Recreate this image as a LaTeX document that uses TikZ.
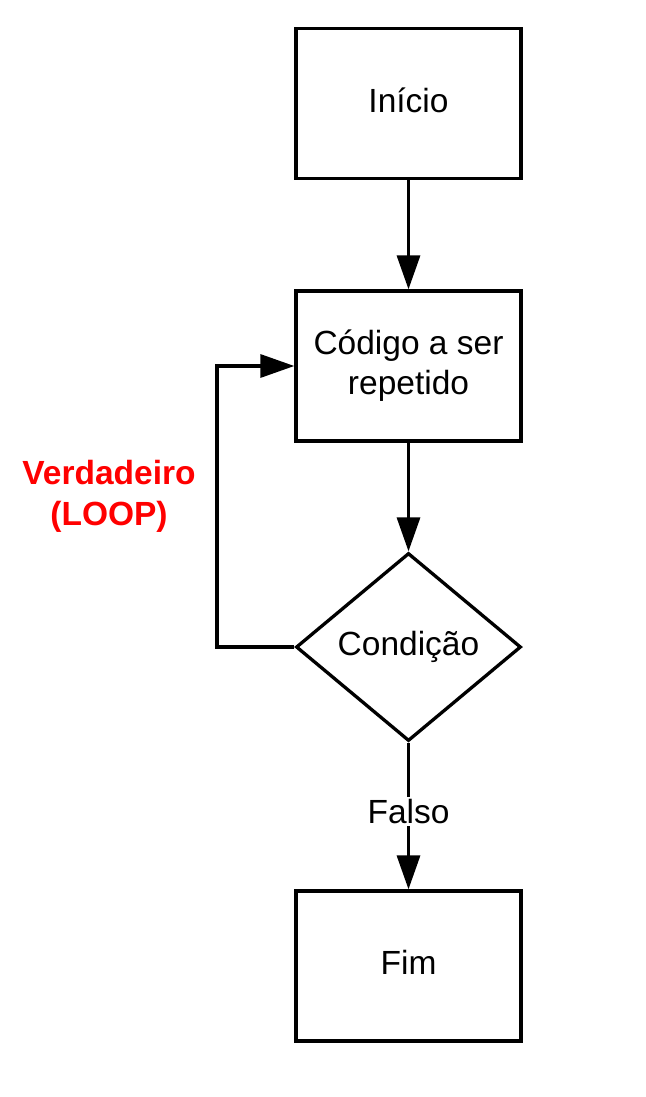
\documentclass[tikz,border=0pt]{standalone}
\usepackage{fontspec}
\setmainfont{Liberation Sans}
\usetikzlibrary{arrows.meta,shapes.geometric}
\begin{document}
\begin{tikzpicture}[x=1pt,y=-1pt,
  every node/.style={font=\fontsize{33.5}{40}\selectfont},
  box/.style={draw,line width=3.3pt,minimum width=225pt,minimum height=150pt,inner sep=0pt,align=center},
  dec/.style={draw,line width=3.3pt,diamond,minimum width=225pt,minimum height=188pt,inner sep=0pt,aspect=1.2},
  conn/.style={line width=3.3pt,-{Triangle[length=34pt,width=23pt]}},
  lbl/.style={fill=white,inner sep=2pt}]
\useasboundingbox (0,0) rectangle (645,1097);
\node[box] (inicio) at (408.5,103.5) {};
\node (inicioT) at (408.5,100) {Início};
\node[box] (codigo) at (408.5,366) {Código a ser\\repetido};
\node[dec] (cond) at (408.5,647) {Condição};
\node[box] (fim) at (408.5,966) {};
\node (fimT) at (408.5,962) {Fim};
\draw[conn] (inicio) -- (codigo);
\draw[conn] (codigo) -- (cond.north);
\draw[conn] (cond.south) -- node[lbl,pos=0.47] (falso) {Falso} (fim);
\coordinate (c1) at (217,647);
\coordinate (c2) at (217,366);
\draw[conn,line join=miter] (cond.west) -- (c1) -- (c2) -- (codigo.west);
\node[text=red,font=\fontsize{33.5}{41}\selectfont\bfseries,align=center] (loop) at (109,496) {Verdadeiro\\(LOOP)};
\end{tikzpicture}
\end{document}
